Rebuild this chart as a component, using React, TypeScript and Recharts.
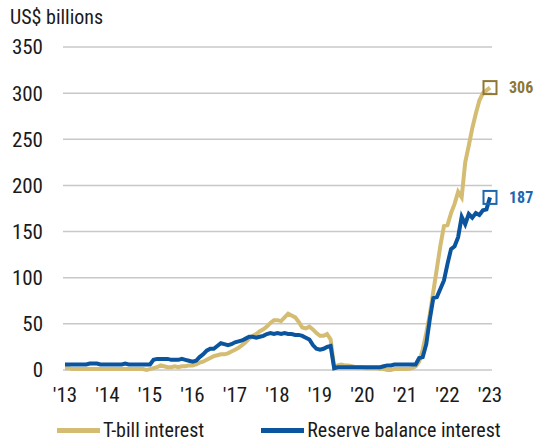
import { LineChart, Line, XAxis, YAxis, CartesianGrid } from "recharts";

const startYear = 2013;

// monthly values, Jan 2013 .. Jan 2023 (US$ billions)
const tbill = [
  2, 2, 1, 1, 1, 1, 1, 1, 1, 1, 1, 1,
  1, 1, 1, 1, 1, 1, 1, 1, 1, 1, 1, 0,
  1, 2, 3, 5, 4, 3, 3, 4, 3, 4, 4, 5,
  5, 6, 8, 9, 11, 13, 15, 16, 17, 17, 18, 20,
  22, 24, 27, 30, 34, 37, 39, 42, 44, 47, 51, 54,
  54, 53, 57, 61, 59, 57, 52, 46, 45, 47, 44, 40,
  37, 37, 39, 33, 3, 5, 6, 5, 5, 4, 3, 3,
  3, 2, 2, 2, 2, 1, 1, 0, 0, 1, 1, 1,
  1, 1, 2, 4, 9, 22, 40, 60, 85, 110, 135, 156,
  157, 170, 180, 193, 187, 225, 243, 262, 278, 292, 300, 303,
  306,
];

const reserve = [
  6, 6, 6, 6, 6, 6, 6, 7, 7, 7, 6, 6,
  6, 6, 6, 6, 6, 7, 6, 6, 6, 6, 6, 6,
  6, 11, 12, 12, 12, 12, 11, 11, 11, 12, 11, 10,
  9, 10, 14, 17, 21, 23, 23, 26, 29, 28, 27, 28,
  30, 31, 32, 34, 36, 36, 35, 36, 37, 39, 40, 39,
  40, 39, 40, 39, 39, 38, 38, 37, 35, 33, 27, 23,
  22, 23, 25, 26, 2, 3, 3, 3, 3, 3, 3, 3,
  3, 3, 3, 3, 3, 3, 4, 5, 5, 6, 6, 6,
  6, 6, 6, 6, 13, 14, 28, 55, 78, 79, 88, 97,
  115, 131, 134, 144, 166, 158, 169, 165, 170, 168, 173, 174,
  187,
];

const yearTicks = [2013, 2014, 2015, 2016, 2017, 2018, 2019, 2020, 2021, 2022, 2023];
const valueTicks = [0, 50, 100, 150, 200, 250, 300, 350];

const data = tbill.map((v, i) => ({
  t: startYear + i / 12,
  tbill: v,
  reserve: reserve[i],
}));

const GOLD = "#D4BC72";
const GOLD_DARK = "#8E7634";
const BLUE = "#0A559E";
const BLUE_LABEL = "#1C67B0";
const FONT = "'Roboto Condensed','Liberation Sans Narrow','DejaVu Sans Condensed',Roboto,sans-serif";

const endMarker = (key: string, boxColor: string, textColor: string) => (props: any) => {
  const { cx, cy, index, payload } = props;
  if (index !== data.length - 1) return <g key={`${key}-${index}`} />;
  return (
    <g key={`${key}-${index}`}>
      <rect x={cx - 6.5} y={cy - 6.5} width={13} height={13} fill="none" stroke={boxColor} strokeWidth={2} />
      <text x={cx + 19} y={cy} dy="0.36em" fill={textColor} fontWeight={700} fontSize={16} fontFamily={FONT}>
        {payload[key]}
      </text>
    </g>
  );
};

const LegendItem = ({ color, label }: { color: string; label: string }) => (
  <div style={{ display: "flex", alignItems: "center" }}>
    <div style={{ width: 43, height: 5, background: color, marginRight: 3 }} />
    <span>{label}</span>
  </div>
);

export default function App() {
  return (
    <div
      style={{
        position: "absolute",
        left: 0,
        top: 0,
        width: 536,
        height: 444,
        background: "#fff",
        fontFamily: FONT,
        fontStretch: "condensed",
        color: "#1a1a1a",
      }}
    >
      <div style={{ position: "absolute", left: 10, top: 5, fontSize: 20 }}>US$ billions</div>
      <LineChart width={536} height={444} data={data} margin={{ top: 47, right: 44, bottom: 44, left: 0 }}>
        <CartesianGrid vertical={false} stroke="#C8C8C8" strokeWidth={1.5} />
        <XAxis
          dataKey="t"
          type="number"
          domain={[2012.953, 2023.047]}
          ticks={yearTicks}
          tickFormatter={(v: number) => "'" + String(v).slice(2)}
          axisLine={false}
          tickLine={false}
          tickSize={0}
          tickMargin={17}
          height={30}
          tick={{ fill: "#1a1a1a", fontSize: 21, fontFamily: FONT }}
        />
        <YAxis
          domain={[0, 350]}
          ticks={valueTicks}
          axisLine={false}
          tickLine={false}
          tickSize={0}
          tickMargin={20}
          width={63}
          tick={{ fill: "#1a1a1a", fontSize: 21, fontFamily: FONT }}
        />
        <Line
          dataKey="tbill"
          type="linear"
          stroke={GOLD}
          strokeWidth={4}
          dot={endMarker("tbill", GOLD_DARK, GOLD_DARK)}
          activeDot={false}
          isAnimationActive={false}
        />
        <Line
          dataKey="reserve"
          type="linear"
          stroke={BLUE}
          strokeWidth={4}
          dot={endMarker("reserve", BLUE_LABEL, BLUE_LABEL)}
          activeDot={false}
          isAnimationActive={false}
        />
      </LineChart>
      <div
        style={{
          position: "absolute",
          left: 57,
          top: 420,
          display: "flex",
          gap: 57,
          fontSize: 20,
          lineHeight: "20px",
        }}
      >
        <LegendItem color={GOLD} label="T-bill interest" />
        <LegendItem color={BLUE} label="Reserve balance interest" />
      </div>
    </div>
  );
}
